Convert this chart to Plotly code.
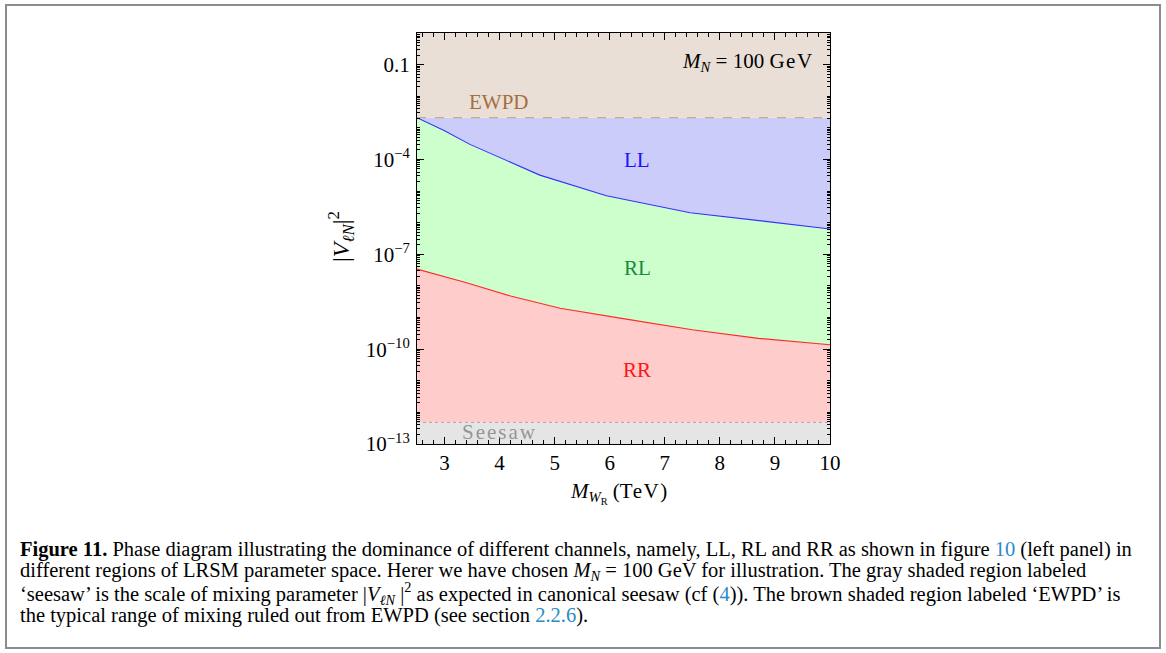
import plotly.graph_objects as go

# ---------------- data ----------------
mwr_blue = [2.5, 3.0, 3.46, 4.0, 4.73, 5.94, 7.46, 8.79, 10.0]          # TeV
v2_blue = [2.1e-3, 8.1e-4, 3.0e-4, 1.17e-4, 3.2e-5, 7.1e-6, 2.06e-6, 1.12e-6, 6.3e-7]

mwr_red = [2.5, 3.4, 4.2, 5.1, 6.3, 7.5, 8.7, 10.0]
v2_red = [3.4e-8, 1.26e-8, 4.8e-9, 1.97e-9, 8.9e-10, 4.1e-10, 2.2e-10, 1.38e-10]

ewpd_level = 2.1e-3
seesaw_level = 4.8e-13
y_bottom, y_top = 1e-13, 1.0
x_range = [2.5, 10.0]

x_tickvals = [3, 4, 5, 6, 7, 8, 9, 10]
x_ticktext = ["3", "4", "5", "6", "7", "8", "9", "10"]
y_tickvals = [1e-13, 1e-10, 1e-7, 1e-4, 1e-1]
y_ticktext = ["10<sup>−13</sup>", "10<sup>−10</sup>", "10<sup>−7</sup>", "10<sup>−4</sup>", "0.1"]

region_labels = ["EWPD", "LL", "RL", "RR", "Seesaw"]

# ---------------- styling ----------------
SERIF = "Liberation Serif"
C_BEIGE = "rgb(233,223,214)"
C_LAV = "rgb(204,204,250)"
C_GREEN = "rgb(204,255,204)"
C_PINK = "rgb(255,204,204)"
C_GRAY = "rgb(229,229,229)"
LINK = "#2a8bc6"

# plot-area geometry in pixels (for placing paper-referenced items)
L, R, T, B = 417, 830, 33, 444
W, H = 1166, 653


def px(x):
    return (x - L) / (R - L)


def py(y):
    return (B - y) / (B - T)


xs_full = [x_range[0], x_range[1]]

fig = go.Figure()
fig.add_trace(go.Scatter(x=xs_full, y=[y_bottom, y_bottom], mode="lines",
                         line=dict(width=0, color=C_GRAY), hoverinfo="skip"))
fig.add_trace(go.Scatter(x=xs_full, y=[seesaw_level, seesaw_level], mode="lines",
                         fill="tonexty", fillcolor=C_GRAY,
                         line=dict(width=1, color="rgb(170,170,170)", dash="dot"), hoverinfo="skip"))
fig.add_trace(go.Scatter(x=mwr_red, y=v2_red, mode="lines",
                         fill="tonexty", fillcolor=C_PINK,
                         line=dict(width=1.1, color="rgb(255,40,40)"), hoverinfo="skip"))
fig.add_trace(go.Scatter(x=mwr_blue, y=v2_blue, mode="lines",
                         fill="tonexty", fillcolor=C_GREEN,
                         line=dict(width=1.1, color="rgb(50,50,255)"), hoverinfo="skip"))
fig.add_trace(go.Scatter(x=xs_full, y=[ewpd_level, ewpd_level], mode="lines",
                         fill="tonexty", fillcolor=C_LAV,
                         line=dict(width=1.2, color="rgb(200,170,140)", dash="dash"), hoverinfo="skip"))
fig.add_trace(go.Scatter(x=xs_full, y=[y_top, y_top], mode="lines",
                         fill="tonexty", fillcolor=C_BEIGE,
                         line=dict(width=0, color=C_BEIGE), hoverinfo="skip"))

# minor ticks on log axis
y_minor = []
for e in range(-13, 1):
    for k in range(1, 10):
        v = k * 10.0 ** e
        if v <= 1.0:
            y_minor.append(v)

axis_font = dict(family=SERIF, size=21, color="black")

fig.update_xaxes(range=x_range, showline=True, linecolor="black", linewidth=1,
                 mirror="allticks", ticks="inside", ticklen=7, tickcolor="black",
                 tickvals=x_tickvals, ticktext=x_ticktext, tickfont=axis_font,
                 minor=dict(tick0=0, dtick=0.2, ticks="inside", ticklen=4, tickcolor="black"),
                 showgrid=False, zeroline=False, ticklabelstandoff=0)
fig.update_yaxes(type="log", range=[-13, 0], showline=True, linecolor="black", linewidth=1,
                 mirror="allticks", ticks="inside", ticklen=7, tickcolor="black",
                 tickvals=y_tickvals, ticktext=y_ticktext, tickfont=axis_font,
                 minor=dict(tickmode="array", tickvals=y_minor, ticks="inside", ticklen=3,
                            tickcolor="black"),
                 showgrid=False, zeroline=False, ticklabelstandoff=2)

ann = []


def add(text, x, y, size=20, color="black", xanchor="center", yanchor="middle", angle=0):
    ann.append(dict(text=text, x=px(x), y=py(y), xref="paper", yref="paper",
                    showarrow=False, xanchor=xanchor, yanchor=yanchor, textangle=angle,
                    font=dict(family=SERIF, size=size, color=color)))


add(region_labels[0], 499, 102, size=21, color="rgb(165,110,60)")
add(region_labels[1], 637, 160, size=21, color="rgb(20,20,255)")
add(region_labels[2], 637, 268, size=21, color="rgb(20,140,60)")
add(region_labels[3], 637, 370, size=21, color="rgb(255,20,20)")
add(f"<span style='letter-spacing:2px'>{region_labels[4]}</span>", 499, 432, size=21,
    color="rgb(150,150,150)")
add("<i>M</i><sub><i>N</i></sub> = 100 <span style='letter-spacing:1.5px'>GeV</span>",
    816, 62, size=21, xanchor="right")

# axis titles
add("|<i>V</i><sub><i>ℓN</i></sub>|<sup>2</sup>", 341, 237, size=24, angle=-90)
add("<i>M</i><sub><i>W</i><sub>R</sub></sub> (<span style='letter-spacing:1.5px'>TeV</span>)",
    618, 493, size=21)

# caption
cap = [
    "<b>Figure 11.</b> Phase diagram illustrating the dominance of different channels, namely, LL, RL and RR as shown in figure "
    f"<span style='color:{LINK}'>10</span> (left panel) in",
    "different regions of LRSM parameter space. Herer we have chosen <i>M</i><sub><i>N</i></sub> = 100 GeV for illustration. The gray shaded region labeled",
    "‘seesaw’ is the scale of mixing parameter |<i>V</i><sub><i>ℓN</i></sub> |<sup>2</sup> as expected in canonical seesaw (cf ("
    f"<span style='color:{LINK}'>4</span>)). The brown shaded region labeled ‘EWPD’ is",
    f"the typical range of mixing ruled out from EWPD (see section <span style='color:{LINK}'>2.2.6</span>).",
]
for i, line in enumerate(cap):
    add(line, 18, 549 + 22 * i, size=20.5, xanchor="left")

fig.update_layout(
    width=W, height=H,
    margin=dict(l=L, r=W - R, t=T, b=H - B),
    paper_bgcolor="white", plot_bgcolor="white",
    showlegend=False, annotations=ann,
    shapes=[dict(type="rect", xref="paper", yref="paper",
                 x0=px(6), x1=px(1160), y0=py(648), y1=py(5),
                 line=dict(color="rgb(140,140,140)", width=2), fillcolor="rgba(0,0,0,0)",
                 layer="below")],
)

fig.write_html("out.html")
